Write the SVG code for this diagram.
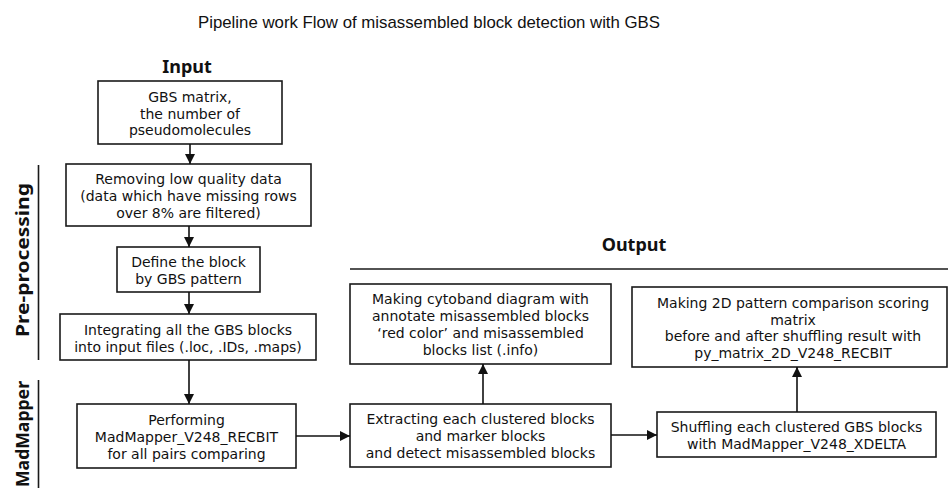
<svg xmlns="http://www.w3.org/2000/svg" width="948" height="488" viewBox="0 0 948 488">
<defs>
<marker id="ah" viewBox="0 0 10 10" refX="10" refY="5" markerWidth="10" markerHeight="10" markerUnits="userSpaceOnUse" orient="auto">
<path d="M0,0 L10,5 L0,10 Z" fill="#111"/>
</marker>
<style>
.box{fill:#fff;stroke:#1a1a1a;stroke-width:1.6}
.t{font-family:"DejaVu Sans",Verdana,sans-serif;font-size:14px;fill:#111;text-anchor:middle}
.lab{font-family:"Noto Sans","Liberation Sans",sans-serif;font-size:18px;font-weight:bold;fill:#111}
.sep{stroke:#1a1a1a;stroke-width:1.6}
.c{stroke:#111;stroke-width:1.6;fill:none;marker-end:url(#ah)}
</style>
</defs>
<rect width="948" height="488" fill="#fff"/>
<text x="429" y="28" font-family="'Liberation Sans',Arial,sans-serif" font-size="17" fill="#111" text-anchor="middle" textLength="462" lengthAdjust="spacingAndGlyphs">Pipeline work Flow of misassembled block detection with GBS</text>

<g id="labels">
<text class="lab" x="187" y="73" text-anchor="middle">Input</text>
<text class="lab" x="634" y="251" text-anchor="middle">Output</text>
<line class="sep" x1="350" y1="269" x2="948" y2="269"/>
<text class="lab" transform="translate(29,260) rotate(-90)" text-anchor="middle" font-size="19.5" textLength="154" lengthAdjust="spacingAndGlyphs">Pre-processing</text>
<line class="sep" x1="38.5" y1="165" x2="38.5" y2="360"/>
<text class="lab" transform="translate(29,381) rotate(-90)" text-anchor="end" font-size="19" textLength="106" lengthAdjust="spacingAndGlyphs">MadMapper</text>
<line class="sep" x1="38.5" y1="380" x2="38.5" y2="488"/>
</g>

<g id="input">
<rect class="box" x="98" y="81" width="184" height="63"/>
<text class="t" x="190" y="102">GBS matrix,</text>
<text class="t" x="190" y="118.5">the number of</text>
<text class="t" x="190" y="135">pseudomolecules</text>
</g>
<g id="remove">
<rect class="box" x="66" y="164" width="245" height="62"/>
<text class="t" x="188.5" y="184">Removing low quality data</text>
<text class="t" x="188.5" y="201">(data which have missing rows</text>
<text class="t" x="188.5" y="218">over 8% are filtered)</text>
</g>
<g id="define">
<rect class="box" x="117" y="247" width="143" height="45"/>
<text class="t" x="188.5" y="267">Define the block</text>
<text class="t" x="188.5" y="283.5">by GBS pattern</text>
</g>
<g id="integrate">
<rect class="box" x="60" y="314" width="256" height="46"/>
<text class="t" x="188" y="335">Integrating all the GBS blocks</text>
<text class="t" x="188" y="352">into input files (.loc, .IDs, .maps)</text>
</g>
<g id="perform">
<rect class="box" x="77" y="404" width="219" height="64"/>
<text class="t" x="186.5" y="425">Performing</text>
<text class="t" x="186.5" y="442">MadMapper_V248_RECBIT</text>
<text class="t" x="186.5" y="458.5">for all pairs comparing</text>
</g>
<g id="cytoband">
<rect class="box" x="350" y="284" width="261" height="80"/>
<text class="t" x="480.5" y="304">Making cytoband diagram with</text>
<text class="t" x="480.5" y="321">annotate misassembled blocks</text>
<text class="t" x="480.5" y="338">‘red color’ and misassembled</text>
<text class="t" x="480.5" y="355">blocks list (.info)</text>
</g>
<g id="extract">
<rect class="box" x="350" y="404" width="261" height="63"/>
<text class="t" x="480.5" y="424">Extracting each clustered blocks</text>
<text class="t" x="480.5" y="441">and marker blocks</text>
<text class="t" x="480.5" y="458">and detect misassembled blocks</text>
</g>
<g id="shuffle">
<rect class="box" x="657" y="412" width="279" height="45"/>
<text class="t" x="796.5" y="432">Shuffling each clustered GBS blocks</text>
<text class="t" x="796.5" y="448.5">with MadMapper_V248_XDELTA</text>
</g>
<g id="matrix">
<rect class="box" x="632" y="287" width="315" height="80"/>
<text class="t" x="793" y="308">Making 2D pattern comparison scoring</text>
<text class="t" x="793" y="324.5">matrix</text>
<text class="t" x="793" y="341">before and after shuffling result with</text>
<text class="t" x="793" y="358">py_matrix_2D_V248_RECBIT</text>
</g>

<g id="connectors">
<line class="c" x1="190" y1="144" x2="190" y2="164"/>
<line class="c" x1="189" y1="226" x2="189" y2="247"/>
<line class="c" x1="189" y1="292" x2="189" y2="314"/>
<line class="c" x1="189" y1="360" x2="189" y2="404"/>
<line class="c" x1="296" y1="436" x2="350" y2="436"/>
<line class="c" x1="483" y1="404" x2="483" y2="364"/>
<line class="c" x1="611" y1="435" x2="657" y2="435"/>
<line class="c" x1="797" y1="412" x2="797" y2="367"/>
</g>
</svg>
